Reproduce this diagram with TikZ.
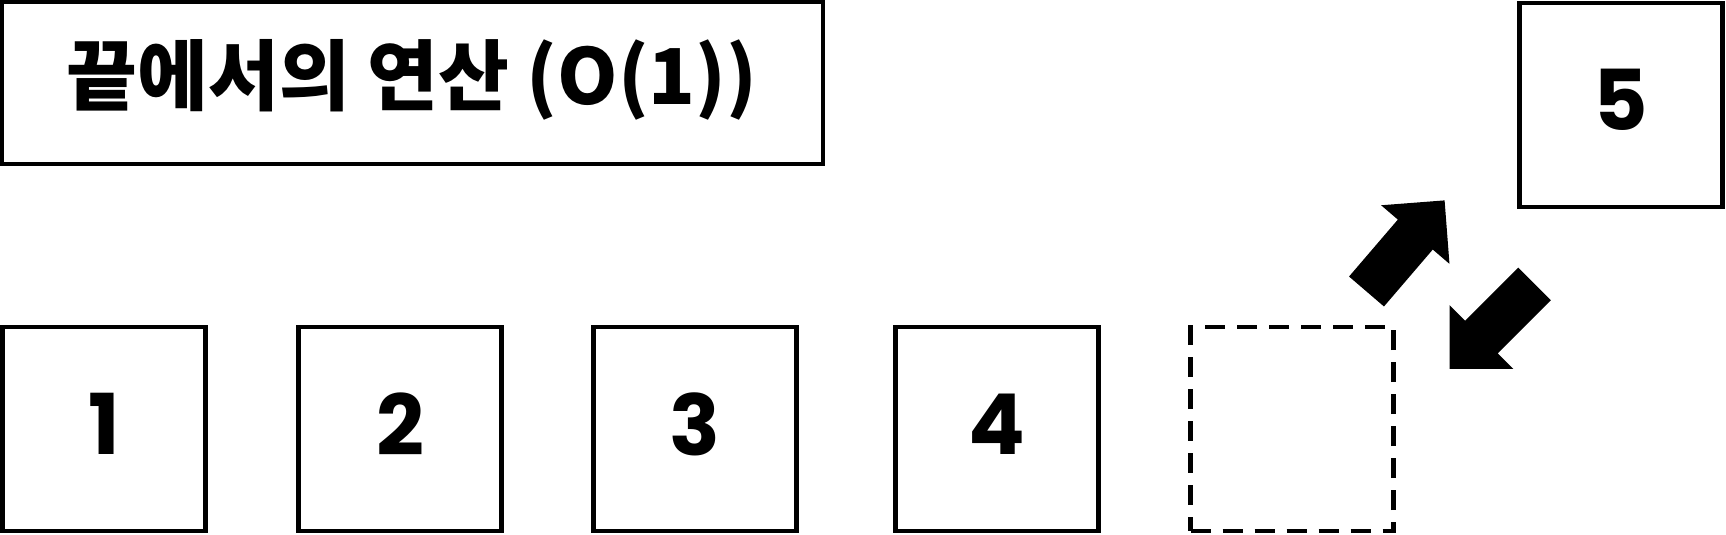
\documentclass[tikz,border=0pt]{standalone}
\usepackage{fontspec}
\setmainfont{Poppins}
\newfontfamily\kr{Noto Sans CJK KR}
\begin{document}
\begin{tikzpicture}[x=0.5pt,y=-0.5pt,
  cell/.style={draw, line width=2.2pt, minimum width=101.5pt, minimum height=102pt, inner sep=0pt,
    text depth=5pt, font=\fontsize{42}{42}\selectfont\bfseries},
  ghost/.style={draw, line width=2.2pt, dash pattern=on 10pt off 6pt, minimum width=101.5pt, minimum height=102pt, inner sep=0pt},
  titlebox/.style={draw, line width=2.2pt, minimum width=410.5pt, minimum height=81pt, inner sep=0pt},
  titletext/.style={font=\kr\bfseries\fontsize{38.5}{38.5}\selectfont, inner sep=0pt},
  blockarrow/.pic={\fill[black] (0,-23)--(75,-23)--(75,-45)--(120,0)--(75,45)--(75,23)--(0,23)--cycle;}]
\useasboundingbox (0,0) rectangle (1726,535);
\node[titlebox] (title) at (412.5,83) {};
\node[titletext] (titlelabel) at (412,80) {끝에서의 연산 (O(1))};
\node[cell] (b1) at (104,429) {1};
\node[cell] (b2) at (400,429) {2};
\node[cell] (b3) at (695,429) {3};
\node[cell] (b4) at (997,429) {4};
\node[ghost] (slot) at (1292,429) {};
\node[cell] (b5) at (1621,105) {5};
\pic[rotate=49.4] (up) at (1366.5,291.5) {blockarrow};
\pic[rotate=225] (down) at (1534.5,284) {blockarrow};
\end{tikzpicture}
\end{document}
